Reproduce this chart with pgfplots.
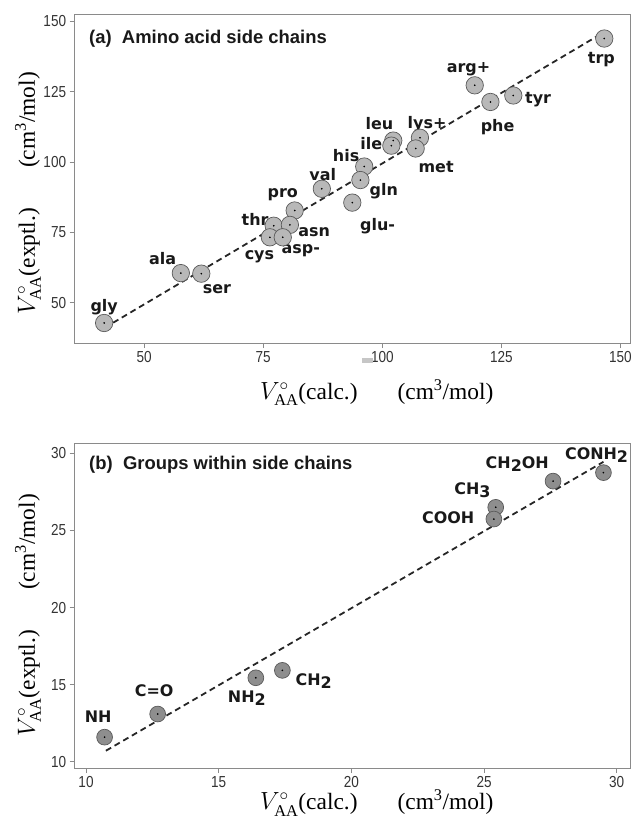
\documentclass[border=0pt]{standalone}
\usepackage{fontspec}
\setmainfont{Liberation Serif}
\newfontfamily\labfont{DejaVu Sans}
\newfontfamily\titfont{Liberation Sans}
\newfontfamily\tickfont[FakeStretch=0.85]{Liberation Sans}
\usepackage{pgfplots}
\usepackage{pgfplotstable}
\pgfplotsset{compat=1.18}
\definecolor{axgray}{HTML}{8A8A8A}
\definecolor{fillA}{HTML}{B8B8B8}
\definecolor{fillB}{HTML}{8E8E8E}
\definecolor{drawP}{HTML}{5A5A5A}
\definecolor{ticktxt}{HTML}{333333}

\pgfplotstableread{
x y
146.6 143.8
119.4 127.2
122.7 121.3
127.5 123.6
102.3 107.6
101.9 105.8
107.9 108.6
107.0 104.8
96.2 98.4
95.4 93.6
87.3 90.5
93.7 85.6
81.6 82.8
77.2 77.4
80.6 77.7
76.4 73.3
79.1 73.3
57.7 60.6
62.0 60.4
41.6 42.9
}\tableA

\pgfplotstableread{
x y
29.50 28.75
27.60 28.20
25.44 26.50
25.37 25.74
17.40 15.93
16.40 15.45
12.70 13.10
10.70 11.60
}\tableB

\pgfplotsset{
  mystyle/.style={
    scale only axis,
    width=555.4bp,
    axis line style={axgray, line width=1bp},
    tick style={axgray, line width=1bp},
    tick align=outside,
    major tick length=5bp,
    xtick pos=bottom, ytick pos=left,
    ticklabel style={font=\tickfont\fontsize{16}{16}\selectfont, text=ticktxt},
    /pgf/number format/assume math mode=true,
    label style={font=\fontsize{23.5}{25}\selectfont, text=black},
    clip=false,
  },
}
\tikzset{
  lab/.style={font=\labfont\bfseries\fontsize{16}{16}\selectfont, text=black!90, anchor=center, inner sep=0pt},
  tit/.style={anchor=west, font=\titfont\bfseries\fontsize{18.5}{18.5}\selectfont, text=black!90, inner sep=0pt},
}

\begin{document}
\begin{tikzpicture}
\path[use as bounding box] (0,0) rectangle (632bp,-821bp);

% ---------------- panel (a)
\begin{axis}[mystyle,
  height=329bp,
  at={(74.6bp,-343bp)}, anchor=south west,
  xmin=35.4, xmax=152, ymin=35.8, ymax=152.5,
  xtick={50,75,100,125,150}, ytick={50,75,100,125,150},
  xlabel={$V^{\circ}_{\mathrm{AA}}$(calc.)\hspace{40bp}(cm\textsuperscript{3}/mol)},
  ylabel={$V^{\circ}_{\mathrm{AA}}$(exptl.)\hspace{40bp}(cm\textsuperscript{3}/mol)},
  xlabel style={at={(axis description cs:0.544,-0.152)}, anchor=center},
  ylabel style={at={(axis description cs:-0.084,0.455)}, anchor=center},
]
\addplot[only marks, mark=*, mark size=8.7bp, mark options={fill=fillA, draw=drawP, line width=0.7bp}] table {\tableA};
\addplot[black!85, line width=1.8bp, dash pattern=on 6bp off 4bp] coordinates {(43.5,43.0) (146.5,146.0)};
\addplot[only marks, mark=*, mark size=0.6bp, black] table {\tableA};
\node[tit] at (axis description cs:0.026,0.924) {(a)\ \ Amino acid side chains};
\node[lab] at (axis cs:146.0,136.5) {trp};
\node[lab] at (axis cs:118.1,133.0) {arg+};
\node[lab] at (axis cs:124.2,112.5) {phe};
\node[lab] at (axis cs:132.7,122.3) {tyr};
\node[lab] at (axis cs:99.4,113.6) {leu};
\node[lab] at (axis cs:109.4,113.3) {lys+};
\node[lab] at (axis cs:97.7,106.4) {ile};
\node[lab] at (axis cs:111.3,98.2) {met};
\node[lab] at (axis cs:92.4,102.4) {his};
\node[lab] at (axis cs:87.5,95.5) {val};
\node[lab] at (axis cs:100.3,89.8) {gln};
\node[lab] at (axis cs:79.1,88.3) {pro};
\node[lab] at (axis cs:73.3,79.7) {thr};
\node[lab] at (axis cs:85.7,75.0) {asn};
\node[lab] at (axis cs:82.9,68.6) {asp-};
\node[lab] at (axis cs:74.2,66.3) {cys};
\node[lab] at (axis cs:99.0,77.1) {glu-};
\node[lab] at (axis cs:53.9,65.9) {ala};
\node[lab] at (axis cs:65.3,55.0) {ser};
\node[lab] at (axis cs:41.6,48.6) {gly};
\end{axis}

\fill[gray!45] (362bp,-358bp) rectangle (373bp,-363bp);

% ---------------- panel (b)
\begin{axis}[mystyle,
  height=325bp,
  at={(74.6bp,-768bp)}, anchor=south west,
  xmin=9.57, xmax=30.5, ymin=9.6, ymax=30.67,
  xtick={10,15,20,25,30}, ytick={10,15,20,25,30},
  xlabel={$V^{\circ}_{\mathrm{AA}}$(calc.)\hspace{40bp}(cm\textsuperscript{3}/mol)},
  ylabel={$V^{\circ}_{\mathrm{AA}}$(exptl.)\hspace{40bp}(cm\textsuperscript{3}/mol)},
  xlabel style={at={(axis description cs:0.544,-0.108)}, anchor=center},
  ylabel style={at={(axis description cs:-0.084,0.47)}, anchor=center},
]
\addplot[only marks, mark=*, mark size=7.9bp, mark options={fill=fillB, draw=drawP, line width=0.7bp}] table {\tableB};
\addplot[black!85, line width=1.8bp, dash pattern=on 6bp off 4bp] coordinates {(10.75,10.72) (29.5,29.45)};
\addplot[only marks, mark=*, mark size=0.6bp, black] table {\tableB};
\node[tit] at (axis description cs:0.026,0.932) {(b)\ \ Groups within side chains};
\node[lab] at (axis cs:29.24,29.9) {CONH\raisebox{-0.35ex}{2}};
\node[lab] at (axis cs:26.25,29.3) {CH\raisebox{-0.35ex}{2}OH};
\node[lab] at (axis cs:24.56,27.63) {CH\raisebox{-0.35ex}{3}};
\node[lab] at (axis cs:23.65,25.86) {COOH};
\node[lab] at (axis cs:18.58,15.26) {CH\raisebox{-0.35ex}{2}};
\node[lab] at (axis cs:16.06,14.13) {NH\raisebox{-0.35ex}{2}};
\node[lab] at (axis cs:12.57,14.63) {C=O};
\node[lab] at (axis cs:10.46,12.93) {NH};
\end{axis}
\end{tikzpicture}
\end{document}
